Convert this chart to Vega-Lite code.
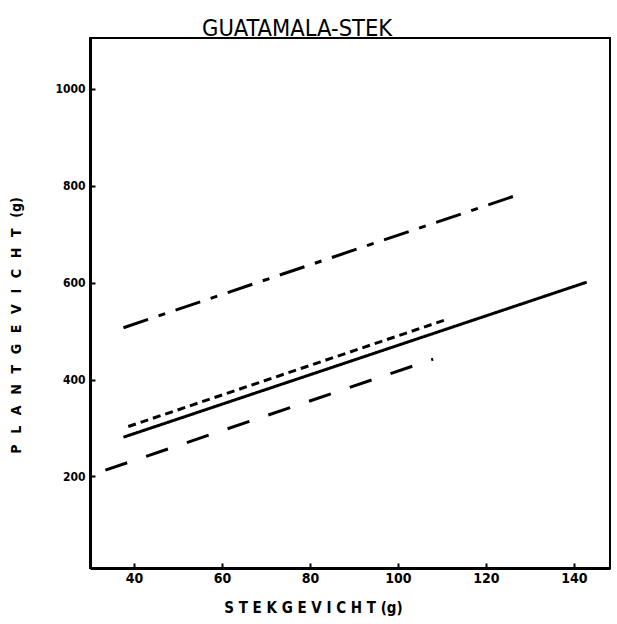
{
  "$schema": "https://vega.github.io/schema/vega-lite/v6.json",
  "width": 520,
  "height": 530,
  "autosize": "none",
  "padding": {"left": 90, "top": 38, "right": 7, "bottom": 56},
  "background": "white",
  "title": {
    "text": "GUATAMALA-STEK",
    "frame": "group",
    "anchor": "start",
    "dx": 112,
    "dy": 26,
    "offset": 5,
    "baseline": "alphabetic",
    "font": "DejaVu Sans Condensed, sans-serif",
    "fontSize": 23.5,
    "fontWeight": "normal",
    "color": "black"
  },
  "config": {
    "view": {"stroke": "black", "strokeWidth": 2},
    "axis": {
      "domainColor": "black",
      "domainWidth": 3,
      "tickColor": "black",
      "tickWidth": 2,
      "grid": false,
      "labelColor": "black",
      "titleColor": "black",
      "labelFont": "DejaVu Sans Condensed, sans-serif",
      "titleFont": "DejaVu Sans Condensed, sans-serif",
      "labelFontWeight": "bold",
      "titleFontWeight": "bold"
    }
  },
  "data": {
    "values": [
      {"serie": "A", "stekgewicht": 37.6, "plantgewicht": 507},
      {"serie": "A", "stekgewicht": 126.2, "plantgewicht": 778},
      {"serie": "B", "stekgewicht": 38.7, "plantgewicht": 303},
      {"serie": "B", "stekgewicht": 111.4, "plantgewicht": 525},
      {"serie": "C", "stekgewicht": 37.6, "plantgewicht": 281},
      {"serie": "C", "stekgewicht": 142.9, "plantgewicht": 601},
      {"serie": "D", "stekgewicht": 33.5, "plantgewicht": 213},
      {"serie": "D", "stekgewicht": 108, "plantgewicht": 442}
    ]
  },
  "mark": {"type": "line", "color": "black", "strokeWidth": 3, "strokeCap": "butt"},
  "encoding": {
    "x": {
      "field": "stekgewicht",
      "type": "quantitative",
      "scale": {"domain": [30, 148.2], "nice": false, "zero": false},
      "axis": {
        "values": [40, 60, 80, 100, 120, 140],
        "format": "d",
        "tickSize": -5,
        "labelPadding": 8,
        "labelFontSize": 14,
        "title": "S T E K G E V I C H T (g)",
        "titleFontSize": 15,
        "titleX": 223,
        "titleY": 39,
        "titleBaseline": "middle",
        "titleAlign": "center"
      }
    },
    "y": {
      "field": "plantgewicht",
      "type": "quantitative",
      "scale": {"domain": [11, 1105], "nice": false, "zero": false},
      "axis": {
        "values": [200, 400, 600, 800, 1000],
        "format": "d",
        "tickSize": -5,
        "labelPadding": 10,
        "labelFontSize": 12,
        "title": "P\u2002 L\u2002 A\u2002 N\u2002 T\u2002 G\u2002 E\u2002 V\u2002 I\u2002 C\u2002 H\u2002 T\u2002 (g)",
        "titleFontSize": 14,
        "titleX": -74,
        "titleY": 287,
        "titleBaseline": "middle",
        "titleAlign": "center"
      }
    },
    "strokeDash": {
      "field": "serie",
      "type": "nominal",
      "scale": {"domain": ["A", "B", "C", "D"], "range": [[26, 11, 7, 11], [8, 5], [1, 0], [23, 20]]},
      "legend": null
    },
    "detail": {"field": "serie"}
  }
}
